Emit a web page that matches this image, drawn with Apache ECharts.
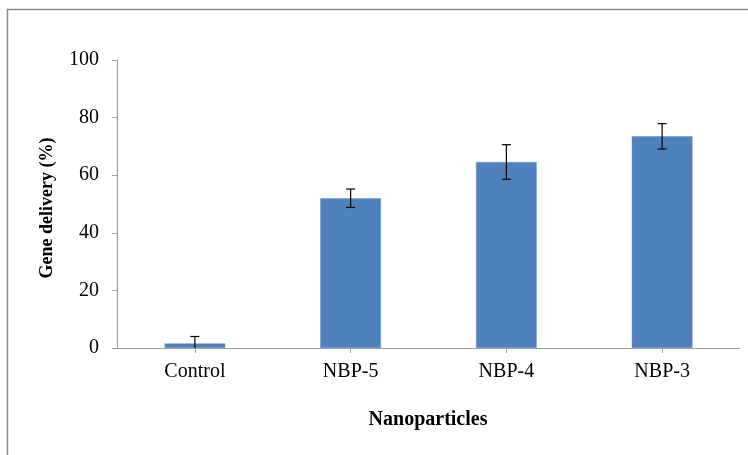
<!DOCTYPE html>
<html><head><meta charset="utf-8">
<script src="https://cdn.jsdelivr.net/npm/echarts@6/dist/echarts.min.js"></script>
<style>html,body{margin:0;padding:0;background:#fff}#c{width:748px;height:455px}</style>
</head><body><div id="c"></div>
<script>
const categories = ['Control', 'NBP-5', 'NBP-4', 'NBP-3'];
const values = [1.6, 52.0, 64.6, 73.5];
const errors = [2.4, 3.2, 6.0, 4.4];
const yTicks = [0, 20, 40, 60, 80, 100];

const chart = echarts.init(document.getElementById('c'));
const font = '"Liberation Serif", "Times New Roman", serif';
chart.setOption({
  animation: false,
  backgroundColor: '#fff',
  graphic: [
    { type: 'rect', shape: { x: 7.5, y: 9.5, width: 760, height: 470 }, style: { fill: 'none', stroke: '#8a8a8a', lineWidth: 1.5 } },
    { type: 'text', x: 428, y: 420, style: { text: 'Nanoparticles', font: 'bold 20px ' + font, fill: '#000', align: 'center', verticalAlign: 'middle' } },
    { type: 'text', x: 47, y: 208, rotation: Math.PI / 2, style: { text: 'Gene delivery (%)', font: 'bold 18px ' + font, fill: '#000', align: 'center', verticalAlign: 'middle' } }
  ],
  grid: { left: 117, right: 8, top: 60, bottom: 107 },
  xAxis: {
    type: 'category',
    data: categories,
    axisLine: { lineStyle: { color: '#a0a0a0', width: 1.2 } },
    axisTick: { show: true, alignWithLabel: true, length: 5, lineStyle: { color: '#a0a0a0' } },
    axisLabel: { color: '#000', fontFamily: font, fontSize: 20, margin: 14 }
  },
  yAxis: {
    type: 'value',
    min: 0, max: 100, interval: 20,
    axisLine: { show: true, lineStyle: { color: '#a0a0a0', width: 1.2 } },
    axisTick: { show: true, length: 5, lineStyle: { color: '#a0a0a0' } },
    splitLine: { show: false },
    axisLabel: { color: '#000', fontFamily: font, fontSize: 20, margin: 18,
      formatter: v => yTicks.includes(v) ? String(v) : '' }
  },
  series: [
    {
      type: 'bar',
      data: values,
      barWidth: '39%',
      itemStyle: { color: '#4f81bd', borderColor: '#6f97cc', borderWidth: 0.5 },
      z: 2
    },
    {
      type: 'custom',
      clip: true,
      z: 3,
      data: values.map((v, i) => [i, v - errors[i], v + errors[i]]),
      renderItem: function (params, api) {
        const lo = api.coord([api.value(0), api.value(1)]);
        const hi = api.coord([api.value(0), api.value(2)]);
        const hw = 4.5;
        const st = { stroke: '#000', lineWidth: 1.2 };
        return {
          type: 'group',
          children: [
            { type: 'line', shape: { x1: hi[0], y1: hi[1], x2: lo[0], y2: lo[1] }, style: st },
            { type: 'line', shape: { x1: hi[0] - hw, y1: hi[1], x2: hi[0] + hw, y2: hi[1] }, style: st },
            { type: 'line', shape: { x1: lo[0] - hw, y1: lo[1], x2: lo[0] + hw, y2: lo[1] }, style: st }
          ]
        };
      }
    }
  ]
});
</script></body></html>
